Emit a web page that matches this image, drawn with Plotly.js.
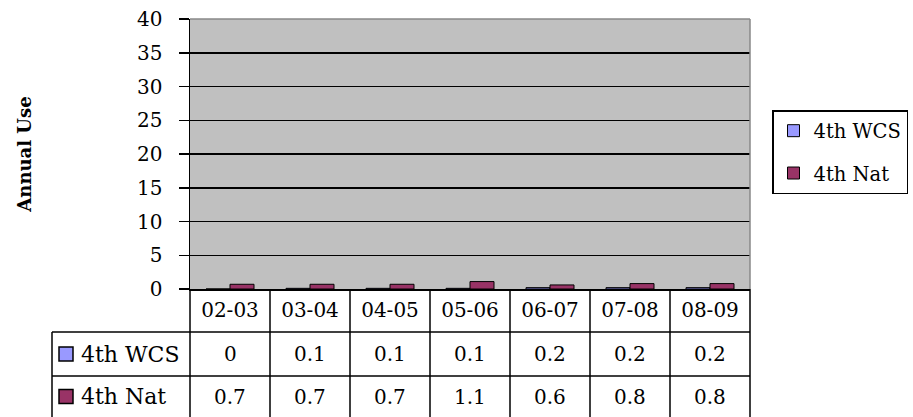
<!DOCTYPE html>
<html>
<head>
<meta charset="utf-8">
<script src="https://cdn.plot.ly/plotly-3.0.1.min.js"></script>
<style>html,body{margin:0;padding:0;background:#fff;}#chart{width:913px;height:417px;}</style>
</head>
<body>
<div id="chart"></div>
<script>
// ---- data ----
const categories = ['02-03', '03-04', '04-05', '05-06', '06-07', '07-08', '08-09'];
const seriesNames = ['4th WCS', '4th Nat'];
const wcsValues = [0, 0.1, 0.1, 0.1, 0.2, 0.2, 0.2];
const natValues = [0.7, 0.7, 0.7, 1.1, 0.6, 0.8, 0.8];
const yTickValues = [0, 5, 10, 15, 20, 25, 30, 35, 40];
const yTitle = 'Annual Use';

// ---- layout helpers (pixel geometry of the picture) ----
const W = 913, H = 417;
const L = 190, R = 750, T = 19, B = 289;
const px = x => (x - L) / (R - L);
const py = y => (B - y) / (B - T);
const colors = ['#9999FF', '#993366'];
const FONT = 'DejaVu Serif';
const tableLeft = 52, row1Bottom = 332, row2Bottom = 376, tableBottom = 419;

const traces = [wcsValues, natValues].map((vals, k) => ({
  type: 'bar',
  name: seriesNames[k],
  x: categories,
  y: vals,
  legendgroup: 'g' + k,
  marker: {color: colors[k], line: {color: '#000', width: 1}},
  hoverinfo: 'x+y+name'
}));

const tableLine = {color: '#000', width: 1.5};
const shapes = [
  // top and right border of the plot area
  {type: 'line', xref: 'paper', yref: 'paper', x0: 0, x1: 1, y0: 1, y1: 1, line: {color: '#888', width: 1.5}},
  {type: 'line', xref: 'paper', yref: 'paper', x0: 1, x1: 1, y0: 0, y1: 1, line: {color: '#888', width: 1.5}},
  // horizontal table rules
  {type: 'line', xref: 'paper', yref: 'paper', x0: px(tableLeft), x1: 1, y0: py(row1Bottom), y1: py(row1Bottom), line: tableLine},
  {type: 'line', xref: 'paper', yref: 'paper', x0: px(tableLeft), x1: 1, y0: py(row2Bottom), y1: py(row2Bottom), line: tableLine},
  // left edge of series label column
  {type: 'line', xref: 'paper', yref: 'paper', x0: px(tableLeft), x1: px(tableLeft), y0: py(row1Bottom), y1: py(tableBottom), line: tableLine}
];
for (let i = 0; i <= categories.length; i++) {
  const xp = i / categories.length;
  shapes.push({type: 'line', xref: 'paper', yref: 'paper', x0: xp, x1: xp, y0: 0, y1: py(tableBottom), line: tableLine});
}

const annotations = [];
const rowCenters = [(row1Bottom + row2Bottom) / 2, (row2Bottom + tableBottom - 2) / 2];
[wcsValues, natValues].forEach((vals, k) => {
  // key square
  shapes.push({type: 'rect', xref: 'paper', yref: 'paper',
    x0: px(59), x1: px(73), y0: py(rowCenters[k] - 7), y1: py(rowCenters[k] + 7),
    fillcolor: colors[k], line: {color: '#000', width: 1.5}});
  annotations.push({xref: 'paper', yref: 'paper', x: px(79), y: py(rowCenters[k]),
    xanchor: 'left', yanchor: 'middle', showarrow: false, text: seriesNames[k],
    font: {family: FONT, size: 22, color: '#000'}});
  vals.forEach((v, i) => {
    annotations.push({xref: 'x', yref: 'paper', x: categories[i], y: py(rowCenters[k]),
      xanchor: 'center', yanchor: 'middle', showarrow: false, text: String(v),
      font: {family: FONT, size: 20, color: '#000'}});
  });
});

const layout = {
  width: W, height: H,
  margin: {l: L, r: W - R, t: T, b: H - B, pad: 0, autoexpand: false},
  paper_bgcolor: '#fff',
  plot_bgcolor: '#C0C0C0',
  font: {family: FONT, size: 20, color: '#000'},
  barmode: 'group',
  bargap: 0.4,
  bargroupgap: 0,
  showlegend: true,
  legend: {
    xref: 'container', yref: 'container',
    x: 772 / W, y: (H - 110) / H, xanchor: 'left', yanchor: 'top',
    bordercolor: '#000', borderwidth: 1.5, bgcolor: '#fff',
    font: {family: FONT, size: 19.5, color: '#000'},
    tracegroupgap: 14, itemwidth: 30
  },
  xaxis: {
    type: 'category', range: [-0.5, categories.length - 0.5],
    showline: true, linecolor: '#000', linewidth: 1.5,
    ticks: '', showgrid: false, zeroline: false,
    ticklabelstandoff: 2,
    tickfont: {family: FONT, size: 20, color: '#000'},
    fixedrange: true
  },
  yaxis: {
    range: [0, 40], tickmode: 'array', tickvals: yTickValues,
    showline: true, linecolor: '#000', linewidth: 1.5,
    ticks: 'outside', ticklen: 10, tickwidth: 1.5, tickcolor: '#000',
    ticklabelstandoff: 12,
    showgrid: true, gridcolor: '#000', gridwidth: 1.5, zeroline: false,
    tickfont: {family: FONT, size: 20, color: '#000'},
    title: {text: yTitle, font: {family: FONT, size: 18, color: '#000', weight: 'bold'}, standoff: 100},
    fixedrange: true
  },
  shapes: shapes,
  annotations: annotations
};

Plotly.newPlot('chart', traces, layout, {displayModeBar: false, staticPlot: true});
</script>
</body>
</html>
